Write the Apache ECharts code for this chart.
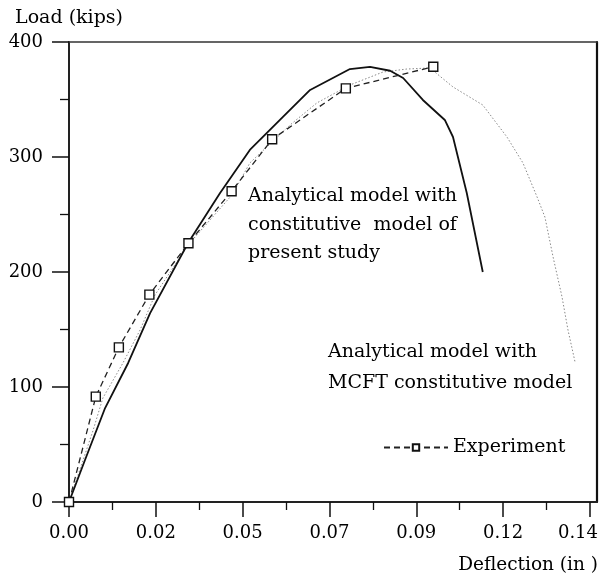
<!DOCTYPE html>
<html>
<head>
<meta charset="utf-8">
<script src="https://cdn.jsdelivr.net/npm/echarts@6/dist/echarts.min.js"></script>
<style>
html,body{margin:0;padding:0;background:#fff;}
#chart{width:602px;height:584px;}
</style>
</head>
<body>
<div id="chart"></div>
<script>
// Experiment (dashed with square markers): [deflection (in), load (kips)]
const experiment = [
  [0.0, 0], [0.0072, 91.6], [0.0134, 134.5], [0.0216, 180.3], [0.0321, 225],
  [0.0437, 270.2], [0.0546, 315.4], [0.0744, 359.7], [0.0979, 378.5]
];
// Analytical model with constitutive model of present study (solid)
const presentStudy = [
  [0.0, 0], [0.0043, 36.5], [0.0097, 81.7], [0.0159, 120.9], [0.0218, 164.3],
  [0.0320, 225.2], [0.0406, 268.7], [0.0486, 306.1], [0.0575, 334.8], [0.0648, 358.3],
  [0.0755, 376.5], [0.0809, 378.3], [0.0863, 375], [0.0898, 368.7], [0.0951, 349.6],
  [0.1010, 332.2], [0.1032, 317.4], [0.1069, 268.7], [0.1112, 200]
];
// Analytical model with MCFT constitutive model (dotted)
const mcft = [
  [0.0, 0], [0.0065, 62.6], [0.0091, 90.4], [0.0145, 120.9], [0.0191, 149.6],
  [0.0231, 180], [0.0320, 223.5], [0.0438, 267], [0.0486, 294.8], [0.0594, 327.8],
  [0.0666, 347], [0.0755, 362.6], [0.0844, 373.9], [0.0908, 376.5], [0.0970, 377.4],
  [0.1032, 360.9], [0.1112, 345.2], [0.1177, 317.4], [0.1220, 294.8], [0.1258, 265.2],
  [0.1279, 247.8], [0.1301, 213], [0.1325, 178.3], [0.1341, 149.6], [0.1360, 121.7]
];
const xMajorTicks = [0, 0.023333, 0.046667, 0.07, 0.093333, 0.116667, 0.14];
const xMajorLabels = ['0.00', '0.02', '0.05', '0.07', '0.09', '0.12', '0.14'];
const xMinorTicks = [0.011667, 0.035, 0.058333, 0.081667, 0.105, 0.128333];
const yTicks = [0, 100, 200, 300, 400];

const FONT = 'DejaVu Serif';
const XMIN = 0, XMAX = 0.1419, YMIN = 0, YMAX = 400;

function xLabel(v) {
  let best = 0, bd = Infinity;
  xMajorTicks.forEach((t, i) => { const d = Math.abs(t - v); if (d < bd) { bd = d; best = i; } });
  const s = xMajorLabels[best];
  return best === xMajorTicks.length - 1 ? '{last|' + s + '}' : s;
}

const chart = echarts.init(document.getElementById('chart'), null, {renderer: 'canvas'});
chart.setOption({
  animation: false,
  backgroundColor: '#fff',
  grid: {left: 69, right: 5, top: 42, bottom: 82, containLabel: false, outerBoundsMode: 'none'},
  legend: {
    data: ['Experiment'],
    left: 378, top: 433,
    itemWidth: 64, itemHeight: 8, itemGap: 10,
    textStyle: {fontFamily: FONT, fontSize: 19, color: '#000'}
  },
  xAxis: [
    {
      type: 'value', min: XMIN, max: XMAX, position: 'bottom',
      axisLine: {show: true, onZero: false, lineStyle: {color: '#222', width: 2}},
      axisTick: {show: true, length: 15, inside: false, customValues: xMajorTicks, lineStyle: {color: '#111', width: 1.5}},
      axisLabel: {show: true, customValues: xMajorTicks, margin: 22, formatter: xLabel,
        fontFamily: FONT, fontSize: 18, color: '#000',
        rich: {last: {width: 64, align: 'left', fontFamily: FONT, fontSize: 18, color: '#000'}}},
      splitLine: {show: false}
    },
    {
      type: 'value', min: XMIN, max: XMAX, position: 'bottom',
      axisLine: {show: false},
      axisTick: {show: true, length: 8, inside: false, customValues: xMinorTicks, lineStyle: {color: '#111', width: 1.3}},
      axisLabel: {show: false},
      splitLine: {show: false}
    },
    {
      type: 'value', min: XMIN, max: XMAX, position: 'top',
      axisLine: {show: true, onZero: false, lineStyle: {color: '#333', width: 1.5}},
      axisTick: {show: false}, axisLabel: {show: false}, splitLine: {show: false}
    }
  ],
  yAxis: [
    {
      type: 'value', min: YMIN, max: YMAX, interval: 100, position: 'left',
      name: 'Load (kips)', nameLocation: 'end', nameGap: 14,
      nameTextStyle: {fontFamily: FONT, fontSize: 19, color: '#000', align: 'center'},
      axisLine: {show: true, onZero: false, lineStyle: {color: '#222', width: 2}},
      axisTick: {show: true, length: 17, inside: false, lineStyle: {color: '#111', width: 1.5}},
      minorTick: {show: true, splitNumber: 2, length: 9, lineStyle: {color: '#111', width: 1.3}},
      axisLabel: {margin: 26, fontFamily: FONT, fontSize: 18, color: '#000',
        formatter: v => (yTicks.indexOf(v) >= 0 ? String(v) : '')},
      splitLine: {show: false}
    },
    {
      type: 'value', min: YMIN, max: YMAX, position: 'right',
      axisLine: {show: true, onZero: false, lineStyle: {color: '#111', width: 2.2}},
      axisTick: {show: false}, axisLabel: {show: false}, splitLine: {show: false}
    }
  ],
  series: [
    {
      name: 'Analytical model with MCFT constitutive model', type: 'line', data: mcft,
      showSymbol: false, symbol: 'none',
      lineStyle: {color: '#888', width: 1, type: [1.5, 2]}
    },
    {
      name: 'Analytical model with constitutive model of present study', type: 'line', data: presentStudy,
      showSymbol: false, symbol: 'none',
      lineStyle: {color: '#111', width: 1.8, type: 'solid'}
    },
    {
      name: 'Experiment', type: 'line', data: experiment,
      symbol: 'rect', symbolSize: 9, showSymbol: true,
      itemStyle: {color: '#fff', borderColor: '#111', borderWidth: 1.4},
      lineStyle: {color: '#222', width: 1.3, type: [6, 4]}
    }
  ],
  graphic: [
    {
      type: 'text', left: 248, top: 182,
      style: {text: 'Analytical model with\nconstitutive  model of\npresent study',
        fontFamily: FONT, fontSize: 19, lineHeight: 28.5, fill: '#000'}
    },
    {
      type: 'text', left: 328, top: 337,
      style: {text: 'Analytical model with\nMCFT constitutive model',
        fontFamily: FONT, fontSize: 19, lineHeight: 31, fill: '#000'}
    },
    {
      type: 'text', right: 4, top: 556,
      style: {text: 'Deflection (in )', fontFamily: FONT, fontSize: 18.5, fill: '#000'}
    }
  ]
});
</script>
</body>
</html>
